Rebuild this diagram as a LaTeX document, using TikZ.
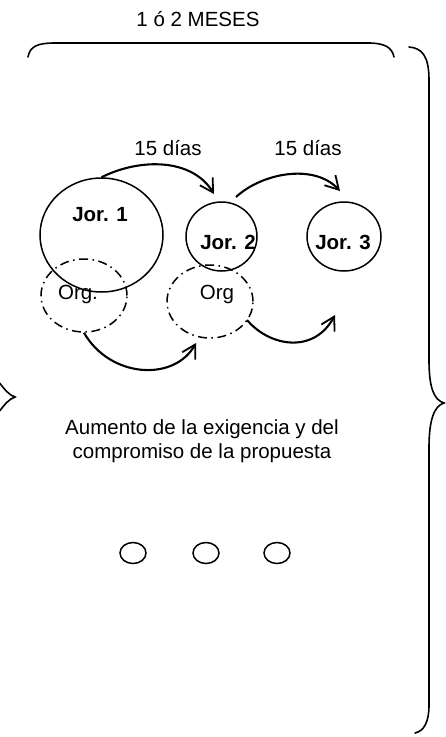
\documentclass[tikz,border=0pt]{standalone}
\usepackage{fontspec}
\setmainfont{Liberation Sans}
\usetikzlibrary{shapes.geometric,arrows.meta}
\begin{document}
\begin{tikzpicture}[x=1pt,y=-1pt,
  txt/.style={font=\fontsize{20.5}{23.5}\selectfont, inner sep=0pt, align=center},
  btxt/.style={txt, font=\fontsize{20.5}{23.5}\selectfont\bfseries},
  jor/.style={draw, ellipse, line width=1.5pt, inner sep=0pt},
  org/.style={draw, ellipse, line width=1.5pt, inner sep=0pt, dash pattern=on 9pt off 4.5pt on 1.5pt off 4.5pt},
  arr/.style={line width=2.1pt, -{Straight Barb[length=13pt,width=15pt,line width=1.8pt]}},
  brace/.style={line width=1.6pt, line cap=round}]
\useasboundingbox (0,0) rectangle (445,737);

% title
\node[txt] (title) at (198,19) {1 ó 2 MESES};

% top brace
\coordinate (tbL) at (28,57);
\coordinate (tbR) at (394,57);
\draw[brace] (tbL) .. controls (30,46) and (38,43) .. (55,43) -- (368,43) .. controls (384,43) and (392,47) .. (tbR);

% right brace
\coordinate (rbT) at (409,47);
\coordinate (rbC) at (444,403);
\coordinate (rbB) at (415,733);
\draw[brace] (rbT) .. controls (422,48) and (429,56) .. (429,80) -- (429,360)
  .. controls (429,388) and (434,400) .. (rbC)
  .. controls (434,406) and (429,420) .. (429,448) -- (429,705)
  .. controls (429,722) and (424,731) .. (rbB);

% left brace (cusp)
\coordinate (lbC) at (15,397);
\draw[brace] (-2,381) .. controls (5,390) and (9,395) .. (lbC)
  .. controls (9,399) and (5,404) .. (-2,413);

% ellipses
\node[jor, minimum width=123pt, minimum height=114pt] (j1) at (101.5,235) {};
\node[jor, minimum width=71pt, minimum height=69pt] (j2) at (221.5,236.5) {};
\node[jor, minimum width=74pt, minimum height=69pt] (j3) at (344,236.5) {};
\node[org, minimum width=86pt, minimum height=73pt] (o1) at (84,295.5) {};
\node[org, minimum width=86pt, minimum height=73pt] (o2) at (210,301.5) {};

% labels
\node[btxt] (l1) at (100,215) {Jor. 1};
\node[btxt] (l2) at (228,242) {Jor. 2};
\node[btxt] (l3) at (343,242) {Jor. 3};
\node[txt] (lo1) at (78,294) {Org.};
\node[txt] (lo2) at (217,294) {Org};
\node[txt] (d1) at (168,148) {15 días};
\node[txt] (d2) at (308,148) {15 días};

% arrows
\coordinate (t1) at (214,194);
\coordinate (s2) at (236,197);
\coordinate (t2) at (340,191);
\coordinate (t3) at (196,343);
\coordinate (s4) at (247,320);
\coordinate (t4) at (335,315);
\draw[arr] (j1.north) .. controls (140,158) and (192,158) .. (t1);
\draw[arr] (s2) .. controls (262,173) and (314,163) .. (t2);
\draw[arr] (o1.south) .. controls (110,378) and (174,382) .. (t3);
\draw[arr] (s4) .. controls (270,347) and (314,354) .. (t4);

% main text
\node[txt] (main) at (202,441) {Aumento de la exigencia y del\\compromiso de la propuesta};

% small circles
\node[jor, minimum width=26pt, minimum height=21pt] (c1) at (133,553) {};
\node[jor, minimum width=26pt, minimum height=21pt] (c2) at (206,553) {};
\node[jor, minimum width=26pt, minimum height=21pt] (c3) at (277,553) {};
\end{tikzpicture}
\end{document}
